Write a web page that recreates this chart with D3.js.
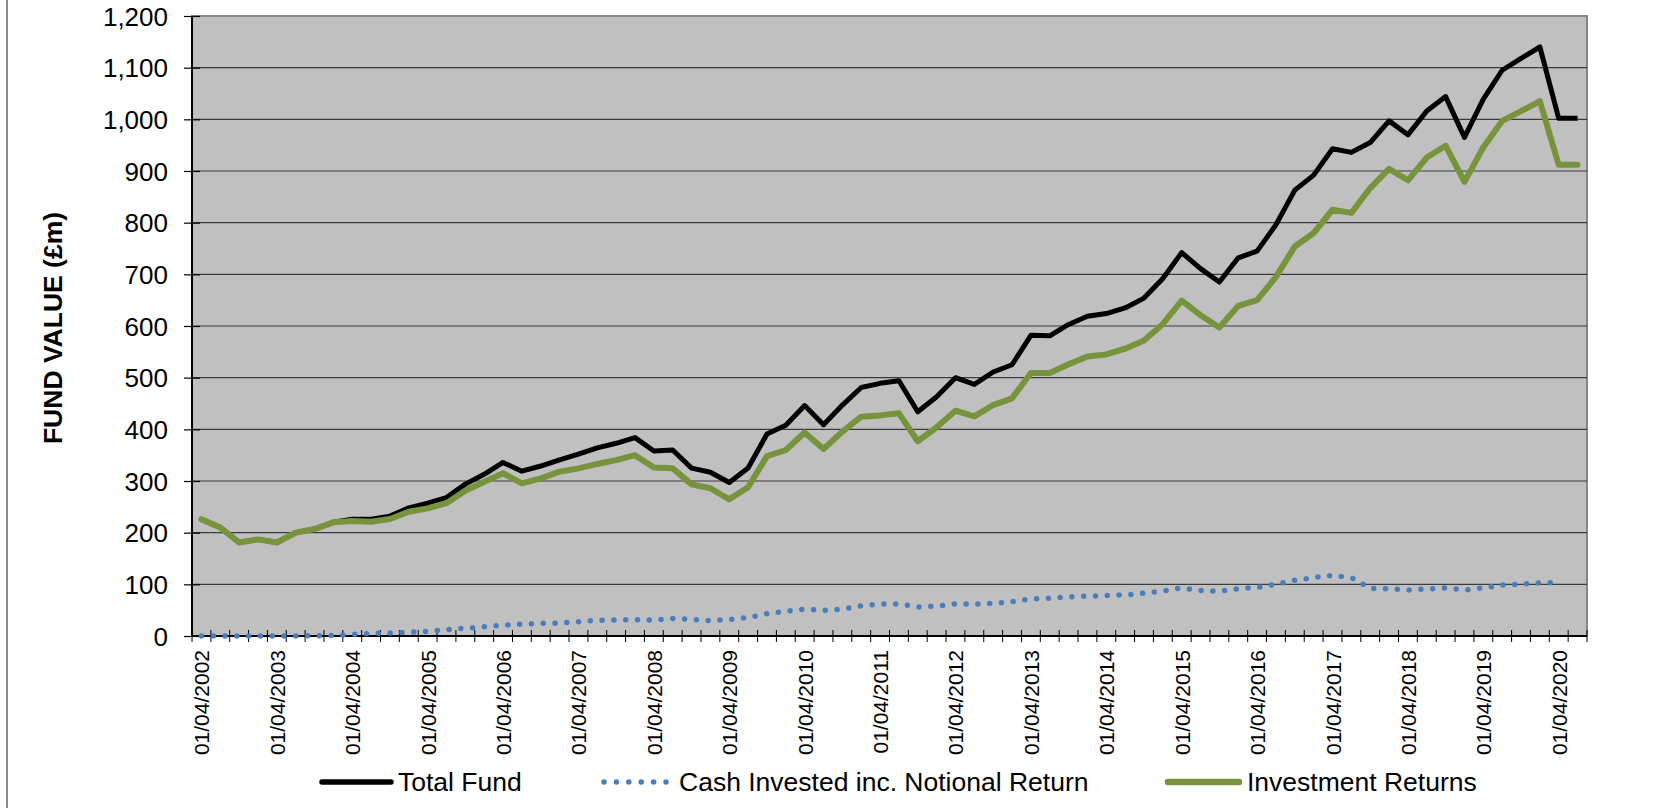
<!DOCTYPE html>
<html>
<head>
<meta charset="utf-8">
<script src="https://cdn.jsdelivr.net/npm/d3@7"></script>
<style>
  body { margin: 0; background: #fff; }
  text { font-family: "Liberation Sans", Arial, sans-serif; fill: #000; }
</style>
</head>
<body>
<svg id="chart" width="1657" height="808"></svg>
<script>
// quarterly categories, first one is 01/04/2002
const startDate = new Date(2002, 3, 1);
const numQuarters = 74;
const categories = d3.range(numQuarters).map(i => d3.timeMonth.offset(startDate, i * 3));
const labelEvery = 4;

const totalFund = [
  226, 210, 181, 187, 181, 200, 207, 220, 226, 226, 232, 248, 257, 268, 294, 313,
  336, 319, 329, 341, 352, 364, 373, 384, 358, 360, 325, 317, 297, 325, 391, 408,
  446, 409, 447, 481, 489, 494, 434, 463, 500, 487, 511, 525, 582, 581, 603, 619,
  624, 635, 654, 692, 742, 711, 685, 732, 745, 796, 863, 892, 943, 936, 955, 997,
  970, 1016, 1044, 965, 1039, 1095, 1118, 1140, 1002, 1002
];

const cashInvested = [
  0, 0, 0, 0, 0, 0, 0.5, 1, 3, 5, 6, 7, 9, 12, 15, 18,
  21, 23, 24.5, 25, 27.5, 30.5, 31, 31.5, 30.5, 34, 32, 30, 32, 35.5, 43, 48,
  52, 49.5, 52, 58.5, 62, 62, 56, 58, 62, 61.5, 63, 66.5, 72, 73, 75.5, 77,
  78.5, 79.5, 83, 87, 93, 88, 86.5, 91.5, 94, 100, 108, 113, 117.5, 113, 92, 91.5,
  89, 91, 93, 89, 93, 98.5, 100.5, 103, 103
];

const investmentReturns = [
  226, 210, 181, 187, 181, 200, 207, 220, 222.5, 221, 226.5, 240.5, 247, 257, 281, 298.5,
  315, 295.5, 305, 318, 324.5, 333, 340.5, 350, 326, 324.5, 293.5, 286, 264.5, 288, 348, 360,
  394, 362, 395.5, 424.5, 427, 431, 377, 404, 436, 425, 447, 460, 509, 509, 526, 541,
  545, 556, 572, 604, 649, 621, 597, 639, 650, 695, 754, 780, 825, 819, 867, 904,
  882, 926, 949, 879, 946, 997, 1016, 1035, 912, 912
];

const yTicks = [0, 100, 200, 300, 400, 500, 600, 700, 800, 900, 1000, 1100, 1200];

const seriesNames = ["Total Fund", "Cash Invested inc. Notional Return", "Investment Returns"];

const svg = d3.select("#chart");
const plotLeft = 192, plotRight = 1587, plotTop = 16, plotBottom = 636;

const x = d3.scaleBand().domain(d3.range(numQuarters)).range([plotLeft, plotRight]).padding(0);
const y = d3.scaleLinear().domain([0, 1200]).range([plotBottom, plotTop]);
const fmtDate = d3.timeFormat("%d/%m/%Y");
const fmtNum = d3.format(",");

// left border of chart area
svg.append("line")
  .attr("x1", 7).attr("x2", 7).attr("y1", 0).attr("y2", 808)
  .attr("stroke", "#8c8c8c").attr("stroke-width", 2);

// plot background
svg.append("rect")
  .attr("x", plotLeft).attr("y", plotTop)
  .attr("width", plotRight - plotLeft).attr("height", plotBottom - plotTop)
  .attr("fill", "#c0c0c0")
  .attr("stroke", "#868686").attr("stroke-width", 2);

// gridlines
svg.append("g")
  .selectAll("line")
  .data(yTicks.filter(d => d > 0 && d < 1200))
  .join("line")
  .attr("x1", plotLeft).attr("x2", plotRight)
  .attr("y1", d => y(d)).attr("y2", d => y(d))
  .attr("stroke", "#3c3c3c").attr("stroke-width", 1.2);

// y axis
const yAxis = svg.append("g")
  .attr("transform", `translate(${plotLeft},0)`)
  .call(d3.axisLeft(y).tickValues(yTicks).tickFormat(fmtNum).tickSize(8).tickPadding(16));
yAxis.select(".domain").remove();
yAxis.selectAll(".tick line").attr("x2", 8).attr("x1", -8).attr("stroke", "#000").attr("stroke-width", 1.2);
yAxis.selectAll(".tick text").attr("font-size", 26).attr("font-family", "Liberation Sans, Arial, sans-serif").attr("dy", "0.35em");

svg.append("line")
  .attr("x1", plotLeft).attr("x2", plotLeft).attr("y1", plotTop).attr("y2", plotBottom)
  .attr("stroke", "#000").attr("stroke-width", 2);

// x axis ticks at category boundaries
const boundaries = d3.range(numQuarters + 1).map(i => plotLeft + i * x.bandwidth());
svg.append("g")
  .selectAll("line")
  .data(boundaries)
  .join("line")
  .attr("x1", d => d).attr("x2", d => d)
  .attr("y1", plotBottom - 6).attr("y2", plotBottom + 6)
  .attr("stroke", "#000").attr("stroke-width", 1);

svg.append("line")
  .attr("x1", plotLeft).attr("x2", plotRight).attr("y1", plotBottom).attr("y2", plotBottom)
  .attr("stroke", "#000").attr("stroke-width", 2);

// x labels, every 4th quarter
svg.append("g")
  .selectAll("text")
  .data(d3.range(0, numQuarters, labelEvery))
  .join("text")
  .attr("transform", i => `translate(${x(i) + x.bandwidth() / 2 + 8},${plotBottom + 14}) rotate(-90)`)
  .attr("text-anchor", "end")
  .attr("font-size", 21)
  .text(i => fmtDate(categories[i]));

// y title
svg.append("text")
  .attr("transform", "translate(53,328) rotate(-90)")
  .attr("text-anchor", "middle")
  .attr("dy", "0.35em")
  .attr("font-size", 26.5)
  .attr("font-weight", "bold")
  .text("FUND VALUE (£m)");

const line = d3.line()
  .x((d, i) => x(i) + x.bandwidth() / 2)
  .y(d => y(d));

svg.append("path")
  .datum(cashInvested)
  .attr("d", line)
  .attr("fill", "none")
  .attr("stroke", "#4a7ebb")
  .attr("stroke-width", 5.5)
  .attr("stroke-linecap", "round")
  .attr("stroke-dasharray", "0 11.8");

svg.append("path")
  .datum(totalFund)
  .attr("d", line)
  .attr("fill", "none")
  .attr("stroke", "#000")
  .attr("stroke-width", 5)
  .attr("stroke-linejoin", "round");

svg.append("path")
  .datum(investmentReturns)
  .attr("d", line)
  .attr("fill", "none")
  .attr("stroke", "#77933c")
  .attr("stroke-width", 6)
  .attr("stroke-linejoin", "round")
  .attr("stroke-linecap", "round");

// legend
const legendY = 782;
const legendItems = [
  { name: seriesNames[0], x1: 322, x2: 391, tx: 398, color: "#000", width: 5.5, dash: null },
  { name: seriesNames[1], x1: 604, x2: 666, tx: 679, color: "#4a7ebb", width: 5.5, dash: "0 12.4" },
  { name: seriesNames[2], x1: 1168, x2: 1239, tx: 1247, color: "#77933c", width: 6.5, dash: null }
];
const lg = svg.append("g");
legendItems.forEach(d => {
  lg.append("line")
    .attr("x1", d.x1).attr("x2", d.x2).attr("y1", legendY).attr("y2", legendY)
    .attr("stroke", d.color).attr("stroke-width", d.width)
    .attr("stroke-linecap", "round")
    .attr("stroke-dasharray", d.dash);
  lg.append("text")
    .attr("x", d.tx).attr("y", legendY).attr("dy", "0.35em")
    .attr("font-size", 26.5)
    .text(d.name);
});
</script>
</body>
</html>
